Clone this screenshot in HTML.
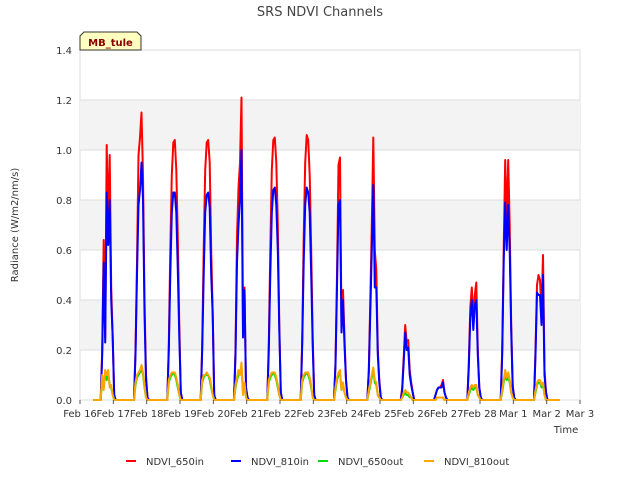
<!DOCTYPE html>
<html><head><meta charset="utf-8"><style>
body{margin:0;background:#fff;font-family:"Liberation Sans","DejaVu Sans",sans-serif}
svg text{font-family:"DejaVu Sans","Liberation Sans",sans-serif}
</style></head><body>
<svg id="chart" width="640" height="480" xmlns="http://www.w3.org/2000/svg">
<rect x="0" y="0" width="640" height="480" fill="#fff"/>
<text x="320" y="16" text-anchor="middle" font-size="13" fill="#444">SRS NDVI Channels</text>
<rect x="80" y="50" width="500" height="350" fill="#fff" stroke="#ddd"/>
<g id="bands"></g>
<g id="grid"></g>
<g id="series"></g>
<g id="axes"></g>
<text transform="translate(18,225) rotate(-90)" text-anchor="middle" font-size="10" fill="#333">Radiance (W/m2/nm/s)</text>
<text x="566" y="433" text-anchor="middle" font-size="10" fill="#333">Time</text>
<g>
<path d="M80,50 L80,36 L84,32 L137,32 L141,36 L141,50 Z" fill="#ffffc0" stroke="#333" stroke-width="1"/>
<text x="110.5" y="46" text-anchor="middle" font-size="10" font-weight="bold" fill="#8b0000">MB_tule</text>
</g>
<g id="legend"></g>
</svg>
<script>
const yTicks=[0,0.2,0.4,0.6,0.8,1.0,1.2,1.4];
const xTickLabels=["Feb 16","Feb 17","Feb 18","Feb 19","Feb 20","Feb 21","Feb 22","Feb 23","Feb 24","Feb 25","Feb 26","Feb 27","Feb 28","Mar 1","Mar 2","Mar 3"];
const seriesNames=["NDVI_650in","NDVI_810in","NDVI_650out","NDVI_810out"];
const seriesColors=["#ff0000","#0000ff","#00dd00","#ffa500"];
const dayStarts=[0.62,1.62,2.62,3.62,4.62,5.62,6.62,7.62,8.62,9.62,10.62,11.62,12.62,13.62];
const sampleStep=0.045;
const red650in=[
[0,0.2,0.64,0.25,1.02,0.7,0.98,0.45,0.25,0.02,0],
[0,0.2,0.55,0.98,1.05,1.15,0.9,0.4,0.1,0.01,0],
[0,0.22,0.6,0.9,1.03,1.04,0.92,0.65,0.3,0.03,0],
[0,0.22,0.6,0.92,1.03,1.04,0.95,0.6,0.35,0.02,0],
[0,0.2,0.65,0.85,0.95,1.21,0.3,0.45,0.05,0.01,0],
[0,0.23,0.6,0.92,1.04,1.05,0.95,0.7,0.3,0.03,0],
[0,0.24,0.65,0.95,1.06,1.04,0.9,0.6,0.25,0.02,0],
[0,0.15,0.5,0.94,0.97,0.3,0.44,0.25,0.08,0.01,0],
[0,0.12,0.4,0.7,1.05,0.6,0.52,0.2,0.08,0.01,0],
[0,0.05,0.17,0.3,0.23,0.24,0.12,0.07,0.03,0,0],
[0,0.02,0.04,0.05,0.05,0.06,0.08,0.03,0.01,0,0],
[0,0.15,0.37,0.45,0.33,0.42,0.47,0.2,0.05,0.01,0],
[0,0.2,0.6,0.96,0.7,0.96,0.7,0.3,0.06,0.01,0],
[0,0.2,0.46,0.5,0.48,0.35,0.58,0.12,0.03,0,0]];
const blue810in=[
[0,0.18,0.55,0.23,0.83,0.62,0.8,0.4,0.25,0.02,0],
[0,0.18,0.5,0.78,0.84,0.95,0.8,0.35,0.08,0.01,0],
[0,0.2,0.5,0.75,0.83,0.83,0.75,0.52,0.25,0.03,0],
[0,0.2,0.5,0.75,0.82,0.83,0.77,0.5,0.34,0.02,0],
[0,0.18,0.55,0.7,0.8,1.0,0.25,0.44,0.05,0.01,0],
[0,0.2,0.5,0.75,0.84,0.85,0.78,0.6,0.28,0.03,0],
[0,0.22,0.55,0.78,0.85,0.83,0.75,0.5,0.22,0.02,0],
[0,0.14,0.45,0.78,0.8,0.27,0.4,0.22,0.08,0.01,0],
[0,0.11,0.35,0.6,0.86,0.45,0.45,0.18,0.07,0.01,0],
[0,0.04,0.15,0.27,0.2,0.21,0.1,0.06,0.03,0,0],
[0,0.02,0.04,0.05,0.05,0.05,0.07,0.03,0.01,0,0],
[0,0.13,0.33,0.4,0.28,0.38,0.4,0.18,0.05,0.01,0],
[0,0.18,0.55,0.79,0.6,0.78,0.6,0.28,0.05,0.01,0],
[0,0.18,0.43,0.42,0.42,0.3,0.5,0.1,0.03,0,0]];
const green650out=[
[0,0.09,0.05,0.11,0.08,0.11,0.06,0.05,0.02,0,0],
[0,0.06,0.09,0.1,0.11,0.13,0.1,0.05,0.01,0,0],
[0,0.07,0.09,0.1,0.11,0.1,0.08,0.05,0.02,0,0],
[0,0.07,0.09,0.1,0.1,0.1,0.08,0.05,0.02,0,0],
[0,0.05,0.08,0.1,0.11,0.13,0.03,0.06,0.01,0,0],
[0,0.07,0.09,0.1,0.11,0.1,0.08,0.05,0.02,0,0],
[0,0.07,0.09,0.1,0.11,0.1,0.08,0.05,0.01,0,0],
[0,0.04,0.08,0.1,0.11,0.04,0.06,0.03,0.01,0,0],
[0,0.03,0.06,0.09,0.12,0.07,0.06,0.02,0.01,0,0],
[0,0.01,0.02,0.03,0.02,0.02,0.01,0.01,0,0,0],
[0,0,0.01,0.01,0.01,0.01,0.01,0,0,0,0],
[0,0.02,0.04,0.05,0.04,0.05,0.05,0.02,0.01,0,0],
[0,0.03,0.07,0.1,0.08,0.09,0.07,0.03,0.01,0,0],
[0,0.03,0.06,0.07,0.07,0.05,0.06,0.02,0,0,0]];
const orange810out=[
[0,0.1,0.04,0.12,0.1,0.12,0.05,0.06,0.02,0,0],
[0,0.07,0.1,0.11,0.12,0.14,0.11,0.06,0.01,0,0],
[0,0.08,0.1,0.11,0.11,0.11,0.09,0.06,0.02,0,0],
[0,0.08,0.1,0.1,0.11,0.1,0.09,0.06,0.02,0,0],
[0,0.06,0.09,0.12,0.1,0.15,0.02,0.07,0.01,0,0],
[0,0.08,0.1,0.11,0.11,0.11,0.09,0.06,0.02,0,0],
[0,0.08,0.1,0.11,0.11,0.11,0.09,0.06,0.01,0,0],
[0,0.05,0.09,0.11,0.12,0.04,0.07,0.03,0.01,0,0],
[0,0.04,0.07,0.1,0.13,0.08,0.07,0.02,0.01,0,0],
[0,0.01,0.03,0.04,0.03,0.03,0.02,0.01,0,0,0],
[0,0,0.01,0.01,0.01,0.01,0.01,0,0,0,0],
[0,0.03,0.05,0.06,0.05,0.06,0.06,0.02,0.01,0,0],
[0,0.04,0.08,0.12,0.09,0.11,0.08,0.03,0.01,0,0],
[0,0.04,0.07,0.08,0.08,0.06,0.07,0.02,0,0,0]];
const seriesData=[red650in,blue810in,green650out,orange810out];
const tStart=0.4, tEnd=14.4;

const NS="http://www.w3.org/2000/svg";
const X0=80,X1=580,Y0=400,Y1=50,XMAX=15,YMAX=1.4;
function xs(t){return X0+(X1-X0)*t/XMAX;}
function ys(v){return Y0-(Y0-Y1)*v/YMAX;}
function mk(tag,attrs,parent){const e=document.createElementNS(NS,tag);for(const k in attrs)e.setAttribute(k,attrs[k]);parent.appendChild(e);return e;}

const bands=document.getElementById('bands');
for(let i=0;i<yTicks.length-1;i++){
  if(i%2===1){
    const r=mk('rect',{x:X0,y:ys(yTicks[i+1]),width:X1-X0,height:ys(yTicks[i])-ys(yTicks[i+1]),fill:'#f3f3f3'},bands);
    
    
  }
}
const grid=document.getElementById('grid');
const axes=document.getElementById('axes');
yTicks.forEach(v=>{
  const l=mk('line',{x1:X0,x2:X1,y1:ys(v),y2:ys(v),stroke:'#ddd','stroke-width':1},grid);
  
  
  const t=mk('text',{x:X0-8,y:ys(v)+4,'text-anchor':'end','font-size':10,fill:'#333'},axes);
  
  
  t.textContent=v.toFixed(1);
});
xTickLabels.forEach((s,i)=>{
  const tk=mk('line',{x1:xs(i),x2:xs(i),y1:Y0,y2:Y0+4,stroke:'#555'},axes);
  
  
  const t=mk('text',{x:xs(i),y:Y0+17,'text-anchor':'middle','font-size':10,fill:'#333'},axes);
  
  
  t.textContent=s;
});
const sg=document.getElementById('series');
seriesData.forEach((days,si)=>{
  let pts=[[xs(tStart),ys(0)]];
  days.forEach((vals,di)=>{
    vals.forEach((v,k)=>{pts.push([xs(dayStarts[di]+k*sampleStep),ys(v)]);});
  });
  pts.push([xs(tEnd),ys(0)]);
  const p=mk('polyline',{points:pts.map(p=>p[0].toFixed(1)+','+p[1].toFixed(1)).join(' '),fill:'none',stroke:seriesColors[si],'stroke-width':2,'stroke-linejoin':'round'},sg);
  
  
});
const lg=document.getElementById('legend');
const legendX=[126,231,318,424];
seriesNames.forEach((n,i)=>{
  const g=mk('g',{},lg);
  
  
  mk('line',{x1:legendX[i],x2:legendX[i]+10,y1:461,y2:461,stroke:seriesColors[i],'stroke-width':2},g);
  const t=mk('text',{x:legendX[i]+20,y:465,'font-size':10,fill:'#333'},g);
  t.textContent=n;
});
</script>
</body></html>
